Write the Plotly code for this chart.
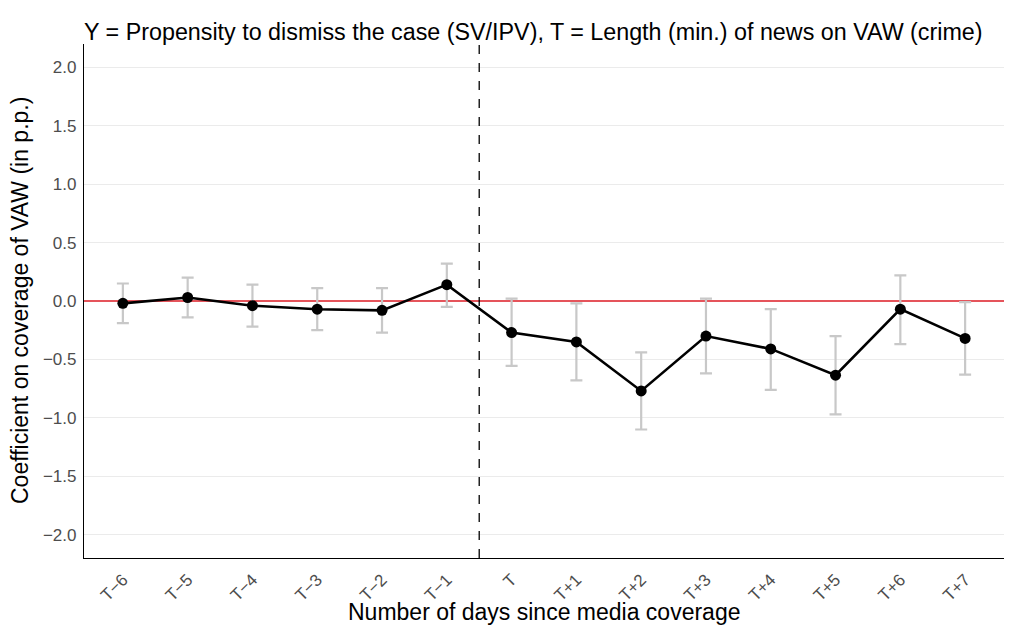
import plotly.graph_objects as go

categories = ["T\u22126", "T\u22125", "T\u22124", "T\u22123", "T\u22122", "T\u22121",
              "T", "T+1", "T+2", "T+3", "T+4", "T+5", "T+6", "T+7"]
coef = [-0.02, 0.03, -0.04, -0.07, -0.08, 0.14,
        -0.27, -0.35, -0.77, -0.30, -0.41, -0.635, -0.07, -0.32]
ci_upper = [0.15, 0.20, 0.14, 0.11, 0.11, 0.32,
            0.02, -0.02, -0.44, 0.02, -0.07, -0.30, 0.22, -0.01]
ci_lower = [-0.19, -0.14, -0.22, -0.25, -0.27, -0.05,
            -0.555, -0.68, -1.10, -0.62, -0.76, -0.97, -0.37, -0.63]
y_ticks = [-2.0, -1.5, -1.0, -0.5, 0.0, 0.5, 1.0, 1.5, 2.0]
y_ticktext = ["\u22122.0", "\u22121.5", "\u22121.0", "\u22120.5", "0.0", "0.5", "1.0", "1.5", "2.0"]

err_plus = [u - c for u, c in zip(ci_upper, coef)]
err_minus = [c - l for c, l in zip(coef, ci_lower)]

FONT = "Liberation Sans, Arial, sans-serif"

W, H = 1018, 628
ML, MR, MT, MB = 84, 14, 44, 70
PW, PH = W - ML - MR, H - MT - MB

fig = go.Figure()
# error bars (drawn without visible markers)
fig.add_trace(go.Scatter(
    x=categories, y=coef, mode="markers",
    marker=dict(size=1, color="rgba(0,0,0,0)"),
    error_y=dict(type="data", symmetric=False, array=err_plus, arrayminus=err_minus,
                 color="#C8C8C8", thickness=2.2, width=6),
    showlegend=False, hoverinfo="skip"))
fig.add_trace(go.Scatter(
    x=categories, y=coef, mode="lines+markers",
    line=dict(color="black", width=2.6),
    marker=dict(color="black", size=11),
    showlegend=False))

# dashed vertical line between T-1 and T
fig.add_shape(type="line", xref="x", x0=5.5, x1=5.5, yref="paper", y0=0, y1=1,
              line=dict(color="black", width=1.3, dash="dash"))

# axis titles
fig.add_annotation(text="Number of days since media coverage", xref="paper", yref="paper",
                   x=0.5, y=-(612 - (H - MB)) / PH, xanchor="center", yanchor="middle",
                   showarrow=False, font=dict(size=23, color="black", family=FONT))
fig.add_annotation(text="Coefficient on coverage of VAW (in p.p.)", xref="paper", yref="paper",
                   x=(20 - ML) / PW, y=0.5, xanchor="center", yanchor="middle", textangle=-90,
                   showarrow=False, font=dict(size=23, color="black", family=FONT))

fig.update_layout(
    width=W, height=H,
    margin=dict(l=ML, r=MR, t=MT, b=MB),
    paper_bgcolor="white", plot_bgcolor="white",
    font=dict(family=FONT, color="black"),
    title=dict(text="Y = Propensity to dismiss the case (SV/IPV), T = Length (min.) of news on VAW (crime)",
               x=ML / W, xanchor="left", y=1 - 32 / H, yanchor="middle",
               font=dict(size=23.3, color="black")),
    xaxis=dict(
        type="category", range=[-0.6, 13.6], automargin=False,
        showgrid=False, zeroline=False,
        showline=True, linecolor="black", linewidth=1.2,
        tickangle=-45, tickfont=dict(size=17, color="#4D4D4D"),
        ticks="", ticklabelstandoff=4,
    ),
    yaxis=dict(
        range=[-2.2, 2.2], automargin=False,
        tickvals=y_ticks, ticktext=y_ticktext,
        showgrid=True, gridcolor="#EBEBEB", gridwidth=1.1,
        zeroline=True, zerolinecolor="#E5545B", zerolinewidth=1.6,
        showline=True, linecolor="black", linewidth=1.2,
        tickfont=dict(size=17, color="#4D4D4D"),
        ticks="", ticklabelstandoff=3,
    ),
)

fig.write_html("out.html", config={"displayModeBar": False},
               post_script="document.body.style.margin='0';document.body.style.overflow='hidden';")
